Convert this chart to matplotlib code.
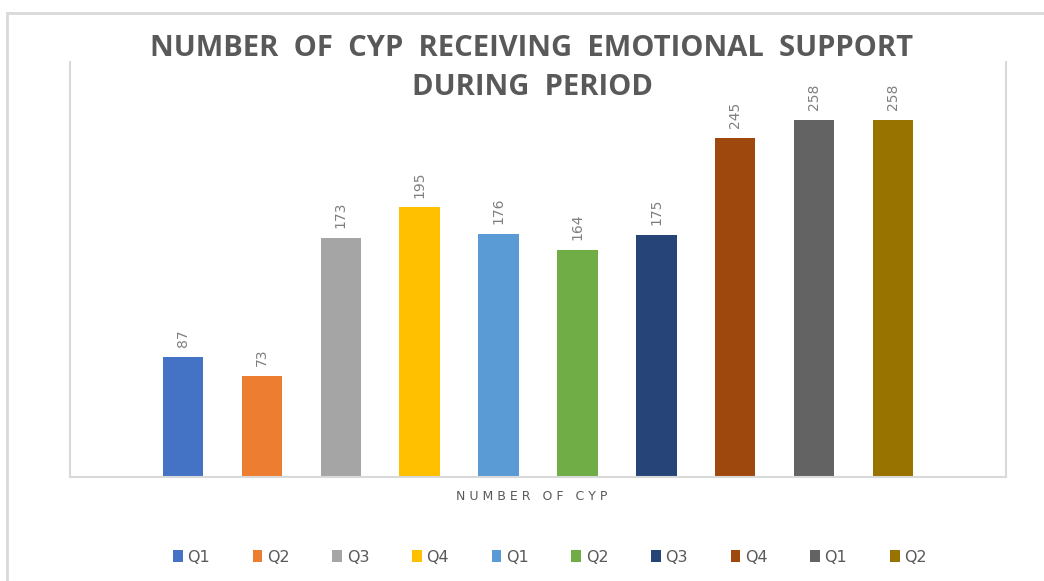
import matplotlib.pyplot as plt
from matplotlib.patches import Rectangle

# veriler
labels = ["Q1", "Q2", "Q3", "Q4", "Q1", "Q2", "Q3", "Q4", "Q1", "Q2"]
values = [87, 73, 173, 195, 176, 164, 175, 245, 258, 258]
colors = ["#4472C4", "#ED7D31", "#A5A5A5", "#FFC000", "#5B9BD5",
          "#70AD47", "#264478", "#9E480E", "#636363", "#997300"]

W, H = 1044, 581
fig = plt.figure(figsize=(W / 100, H / 100), dpi=100)
ax = fig.add_axes([70 / W, 1 - 477 / H, (1006 - 70) / W, (477 - 62) / H])

handles = []
for i, (lab, v, c) in enumerate(zip(labels, values, colors)):
    b = ax.bar(i, v, width=0.51, color=c, label=lab)
    handles.append(b)
    ax.annotate(str(v), (i, v), xytext=(0, 7), textcoords="offset points",
                rotation=90, ha="center", va="bottom", fontsize=10,
                color="#7f7f7f")

ax.set_xlim(-1.43, 10.43)
ax.set_ylim(0, 300)
ax.set_xticks([])
ax.set_yticks([])
for s in ["left", "right", "bottom"]:
    ax.spines[s].set_color("#d9d9d9")
    ax.spines[s].set_linewidth(1.5)
ax.spines["top"].set_visible(False)

# x ekseni basligi
fig.text(532 / W, 1 - 496 / H, "N U M B E R   O F   C Y P", ha="center",
         va="center", fontsize=9, color="#595959")

# baslik
fig.text(532 / W, 1 - 48 / H, "NUMBER  OF  CYP  RECEIVING  EMOTIONAL  SUPPORT",
         ha="center", va="center", fontsize=21, fontweight="bold",
         color="#595959", family="Open Sans")
fig.text(532 / W, 1 - 87 / H, "DURING  PERIOD",
         ha="center", va="center", fontsize=21, fontweight="bold",
         color="#595959", family="Open Sans")

fig.legend(handles=handles, loc="center", bbox_to_anchor=(550 / W, 1 - 557 / H),
           ncol=10, frameon=False, fontsize=11.5, handlelength=0.6,
           handleheight=0.8, handletextpad=0.3, columnspacing=2.67,
           labelcolor="#595959")

# dis cerceve
fig.patches.append(Rectangle((7 / W, -0.1), 2, 1 - 13 / H + 0.1, fill=False,
                             edgecolor="#d9d9d9", linewidth=2,
                             transform=fig.transFigure, figure=fig))

fig.savefig("out.png", dpi=100)
